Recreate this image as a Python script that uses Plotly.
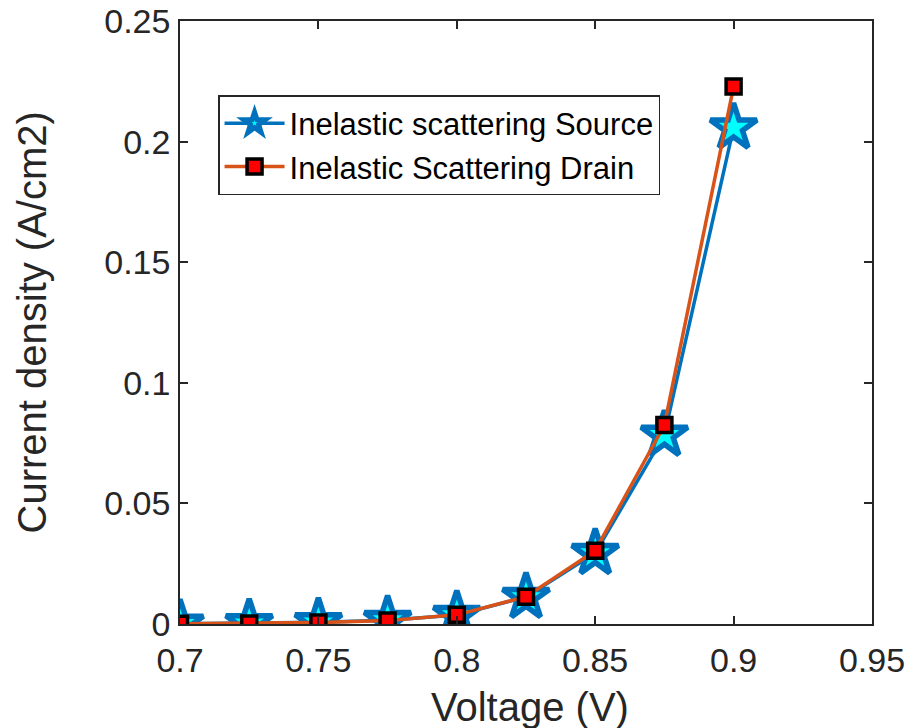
import plotly.graph_objects as go

voltage = [0.7, 0.725, 0.75, 0.775, 0.8, 0.825, 0.85, 0.875, 0.9]
source = [0.0001, 0.0003, 0.0007, 0.0016, 0.0037, 0.0112, 0.0294, 0.0784, 0.2058]
drain = [0.0001, 0.0002, 0.0006, 0.0014, 0.0038, 0.0113, 0.0304, 0.0825, 0.2228]

x_ticks = [0.7, 0.75, 0.8, 0.85, 0.9, 0.95]
x_labels = ["0.7", "0.75", "0.8", "0.85", "0.9", "0.95"]
y_ticks = [0, 0.05, 0.1, 0.15, 0.2, 0.25]
y_labels = ["0", "0.05", "0.1", "0.15", "0.2", "0.25"]

x_title = "Voltage (V)"
y_title = "Current density (A/cm2)"

FONT = "Liberation Sans, Arial, Helvetica, sans-serif"
DARK = "#262626"

fig = go.Figure()
fig.add_trace(go.Scatter(
    x=voltage, y=source, mode="lines+markers",
    name="Inelastic scattering Source",
    line=dict(color="#0072BD", width=3.5),
    marker=dict(symbol="star", size=35, color="#00FFFF",
                line=dict(color="#0072BD", width=5.5)),
))
fig.add_trace(go.Scatter(
    x=voltage, y=drain, mode="lines+markers",
    name="Inelastic Scattering Drain",
    line=dict(color="#D95319", width=3.5),
    marker=dict(symbol="square", size=15, color="#FF0000",
                line=dict(color="#000000", width=3.5)),
))

axis_common = dict(
    showline=True, linecolor=DARK, linewidth=1.5, mirror="ticks",
    ticks="inside", ticklen=8, tickwidth=1.5, tickcolor=DARK,
    showgrid=False, zeroline=False, automargin=False,
    tickfont=dict(family=FONT, size=34, color=DARK),
)

fig.update_layout(
    width=911, height=728,
    margin=dict(l=180, r=39, t=21, b=104),
    paper_bgcolor="white", plot_bgcolor="white",
    showlegend=True,
    legend=dict(
        x=0.055, y=0.877, xanchor="left", yanchor="top",
        bgcolor="white", bordercolor=DARK, borderwidth=1.5,
        font=dict(family=FONT, size=31, color="black"),
        tracegroupgap=0, itemwidth=60,
    ),
    xaxis=dict(range=[0.7, 0.95], tickvals=x_ticks, ticktext=x_labels,
               ticklabelstandoff=5, **axis_common),
    yaxis=dict(range=[0, 0.25], tickvals=y_ticks, ticktext=y_labels,
               ticklabelstandoff=1, **axis_common),
    annotations=[
        dict(text=x_title, xref="paper", yref="paper", x=0.506, y=-0.1376,
             xanchor="center", yanchor="middle", showarrow=False,
             font=dict(family=FONT, size=40, color=DARK)),
        dict(text=y_title, xref="paper", yref="paper", x=-0.2139, y=0.5,
             xanchor="center", yanchor="middle", showarrow=False, textangle=-90,
             font=dict(family=FONT, size=40, color=DARK)),
    ],
)

fig.write_html("out.html")
